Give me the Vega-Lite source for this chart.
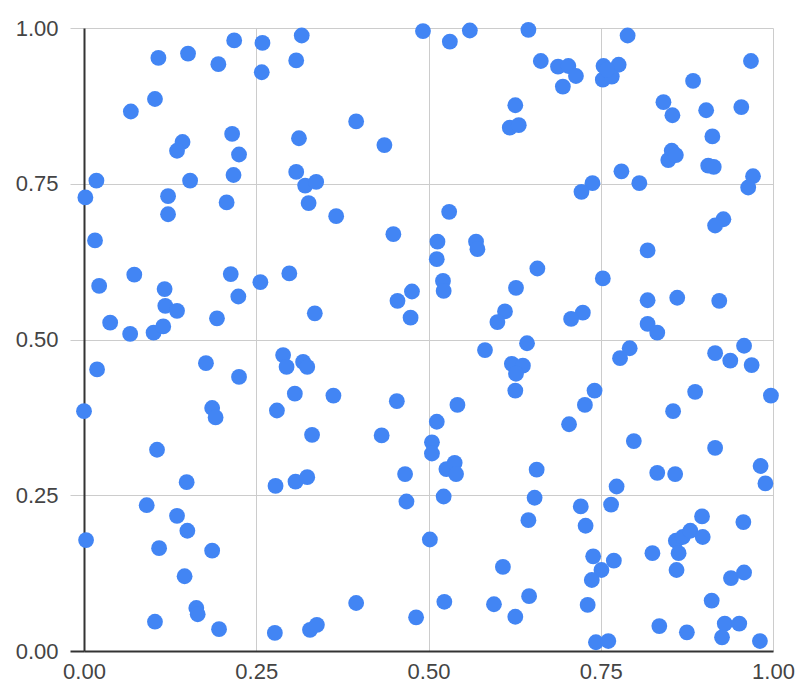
{
  "$schema": "https://vega.github.io/schema/vega-lite/v6.json",
  "width": 689,
  "height": 623,
  "autosize": "none",
  "padding": {"left": 84, "top": 28, "right": 37, "bottom": 49},
  "background": "white",
  "config": {
    "view": {"stroke": null},
    "axis": {
      "labelFont": "Liberation Sans",
      "labelFontSize": 22,
      "labelColor": "#444444",
      "gridColor": "#cccccc",
      "gridWidth": 1,
      "domainColor": "#333333",
      "domainWidth": 2,
      "title": null
    }
  },
  "data": {
    "values": [
      {"x":0.108,"y":0.952},{"x":0.151,"y":0.959},{"x":0.195,"y":0.942},{"x":0.218,"y":0.980},{"x":0.259,"y":0.976},
      {"x":0.258,"y":0.929},{"x":0.308,"y":0.948},{"x":0.316,"y":0.988},{"x":0.103,"y":0.886},{"x":0.068,"y":0.866},
      {"x":0.215,"y":0.830},{"x":0.143,"y":0.817},{"x":0.135,"y":0.803},{"x":0.225,"y":0.797},{"x":0.217,"y":0.764},
      {"x":0.312,"y":0.823},{"x":0.308,"y":0.769},{"x":0.321,"y":0.747},{"x":0.337,"y":0.753},{"x":0.326,"y":0.719},
      {"x":0.018,"y":0.755},{"x":0.002,"y":0.728},{"x":0.122,"y":0.730},{"x":0.122,"y":0.701},{"x":0.207,"y":0.720},
      {"x":0.154,"y":0.755},{"x":0.016,"y":0.659},{"x":0.395,"y":0.850},{"x":0.436,"y":0.812},{"x":0.492,"y":0.995},
      {"x":0.531,"y":0.978},{"x":0.560,"y":0.996},{"x":0.645,"y":0.997},{"x":0.663,"y":0.947},{"x":0.626,"y":0.876},
      {"x":0.618,"y":0.840},{"x":0.631,"y":0.844},{"x":0.366,"y":0.698},{"x":0.449,"y":0.669},{"x":0.530,"y":0.705},
      {"x":0.789,"y":0.988},{"x":0.688,"y":0.938},{"x":0.703,"y":0.939},{"x":0.714,"y":0.923},{"x":0.695,"y":0.906},
      {"x":0.754,"y":0.939},{"x":0.776,"y":0.941},{"x":0.753,"y":0.917},{"x":0.766,"y":0.922},{"x":0.759,"y":0.933},
      {"x":0.968,"y":0.947},{"x":0.884,"y":0.915},{"x":0.841,"y":0.881},{"x":0.854,"y":0.860},{"x":0.903,"y":0.868},
      {"x":0.954,"y":0.873},{"x":0.912,"y":0.826},{"x":0.853,"y":0.803},{"x":0.848,"y":0.788},{"x":0.859,"y":0.796},
      {"x":0.906,"y":0.779},{"x":0.914,"y":0.777},{"x":0.971,"y":0.762},{"x":0.964,"y":0.744},{"x":0.780,"y":0.770},
      {"x":0.806,"y":0.751},{"x":0.738,"y":0.751},{"x":0.722,"y":0.737},{"x":0.928,"y":0.693},{"x":0.916,"y":0.683},
      {"x":0.022,"y":0.586},{"x":0.073,"y":0.604},{"x":0.117,"y":0.581},{"x":0.118,"y":0.554},{"x":0.135,"y":0.546},
      {"x":0.038,"y":0.527},{"x":0.067,"y":0.509},{"x":0.101,"y":0.511},{"x":0.115,"y":0.521},{"x":0.193,"y":0.534},
      {"x":0.213,"y":0.605},{"x":0.224,"y":0.569},{"x":0.256,"y":0.592},{"x":0.298,"y":0.606},{"x":0.335,"y":0.542},
      {"x":0.019,"y":0.452},{"x":0.000,"y":0.385},{"x":0.177,"y":0.462},{"x":0.225,"y":0.440},{"x":0.186,"y":0.390},
      {"x":0.191,"y":0.375},{"x":0.289,"y":0.475},{"x":0.294,"y":0.456},{"x":0.318,"y":0.464},{"x":0.324,"y":0.456},
      {"x":0.306,"y":0.413},{"x":0.280,"y":0.386},{"x":0.331,"y":0.347},{"x":0.106,"y":0.323},{"x":0.513,"y":0.657},
      {"x":0.512,"y":0.629},{"x":0.569,"y":0.657},{"x":0.571,"y":0.645},{"x":0.658,"y":0.614},{"x":0.627,"y":0.583},
      {"x":0.611,"y":0.545},{"x":0.600,"y":0.528},{"x":0.521,"y":0.594},{"x":0.522,"y":0.578},{"x":0.476,"y":0.577},
      {"x":0.455,"y":0.562},{"x":0.474,"y":0.535},{"x":0.643,"y":0.494},{"x":0.582,"y":0.483},{"x":0.621,"y":0.461},
      {"x":0.637,"y":0.458},{"x":0.627,"y":0.445},{"x":0.626,"y":0.418},{"x":0.362,"y":0.410},{"x":0.454,"y":0.401},
      {"x":0.542,"y":0.395},{"x":0.512,"y":0.368},{"x":0.505,"y":0.335},{"x":0.432,"y":0.346},{"x":0.818,"y":0.643},
      {"x":0.753,"y":0.598},{"x":0.724,"y":0.543},{"x":0.707,"y":0.533},{"x":0.818,"y":0.563},{"x":0.861,"y":0.567},
      {"x":0.922,"y":0.562},{"x":0.818,"y":0.525},{"x":0.832,"y":0.511},{"x":0.792,"y":0.486},{"x":0.778,"y":0.470},
      {"x":0.916,"y":0.478},{"x":0.938,"y":0.466},{"x":0.958,"y":0.490},{"x":0.969,"y":0.459},{"x":0.741,"y":0.418},
      {"x":0.727,"y":0.395},{"x":0.704,"y":0.364},{"x":0.887,"y":0.416},{"x":0.855,"y":0.385},{"x":0.997,"y":0.410},
      {"x":0.798,"y":0.337},{"x":0.916,"y":0.326},{"x":0.149,"y":0.271},{"x":0.278,"y":0.265},{"x":0.307,"y":0.272},
      {"x":0.324,"y":0.279},{"x":0.091,"y":0.234},{"x":0.135,"y":0.217},{"x":0.150,"y":0.193},{"x":0.003,"y":0.178},
      {"x":0.109,"y":0.165},{"x":0.186,"y":0.161},{"x":0.146,"y":0.120},{"x":0.163,"y":0.069},{"x":0.165,"y":0.059},
      {"x":0.103,"y":0.047},{"x":0.196,"y":0.035},{"x":0.277,"y":0.029},{"x":0.328,"y":0.034},{"x":0.338,"y":0.042},
      {"x":0.505,"y":0.317},{"x":0.526,"y":0.292},{"x":0.538,"y":0.302},{"x":0.540,"y":0.284},{"x":0.466,"y":0.284},
      {"x":0.468,"y":0.240},{"x":0.522,"y":0.248},{"x":0.657,"y":0.291},{"x":0.654,"y":0.246},{"x":0.645,"y":0.210},
      {"x":0.502,"y":0.179},{"x":0.608,"y":0.135},{"x":0.646,"y":0.088},{"x":0.595,"y":0.075},{"x":0.626,"y":0.055},
      {"x":0.523,"y":0.079},{"x":0.482,"y":0.054},{"x":0.395,"y":0.077},{"x":0.832,"y":0.286},{"x":0.858,"y":0.284},
      {"x":0.982,"y":0.297},{"x":0.989,"y":0.269},{"x":0.773,"y":0.264},{"x":0.765,"y":0.235},{"x":0.721,"y":0.232},
      {"x":0.728,"y":0.201},{"x":0.897,"y":0.216},{"x":0.957,"y":0.207},{"x":0.859,"y":0.177},{"x":0.869,"y":0.183},
      {"x":0.880,"y":0.193},{"x":0.898,"y":0.183},{"x":0.863,"y":0.157},{"x":0.860,"y":0.130},{"x":0.825,"y":0.157},
      {"x":0.739,"y":0.152},{"x":0.751,"y":0.130},{"x":0.737,"y":0.114},{"x":0.769,"y":0.145},{"x":0.731,"y":0.074},
      {"x":0.911,"y":0.081},{"x":0.939,"y":0.117},{"x":0.958,"y":0.126},{"x":0.835,"y":0.040},{"x":0.875,"y":0.030},
      {"x":0.930,"y":0.044},{"x":0.951,"y":0.044},{"x":0.926,"y":0.022},{"x":0.981,"y":0.016},{"x":0.743,"y":0.014},
      {"x":0.761,"y":0.016}
    ]
  },
  "mark": {"type": "circle", "size": 250, "color": "#4285F4", "opacity": 1},
  "encoding": {
    "x": {
      "field": "x",
      "type": "quantitative",
      "scale": {"domain": [0, 1], "nice": false, "zero": false},
      "axis": {
        "values": [0, 0.25, 0.5, 0.75, 1],
        "format": ".2f",
        "ticks": false,
        "labelPadding": 10,
        "labelFlush": false
      }
    },
    "y": {
      "field": "y",
      "type": "quantitative",
      "scale": {"domain": [0, 1], "nice": false, "zero": false},
      "axis": {
        "values": [0, 0.25, 0.5, 0.75, 1],
        "format": ".2f",
        "ticks": true,
        "tickSize": 14,
        "tickColor": {"condition": {"test": "datum.value === 0", "value": "#333333"}, "value": "#cccccc"},
        "tickWidth": {"condition": {"test": "datum.value === 0", "value": 2}, "value": 1},
        "labelPadding": 12,
        "labelFlush": false
      }
    }
  }
}
